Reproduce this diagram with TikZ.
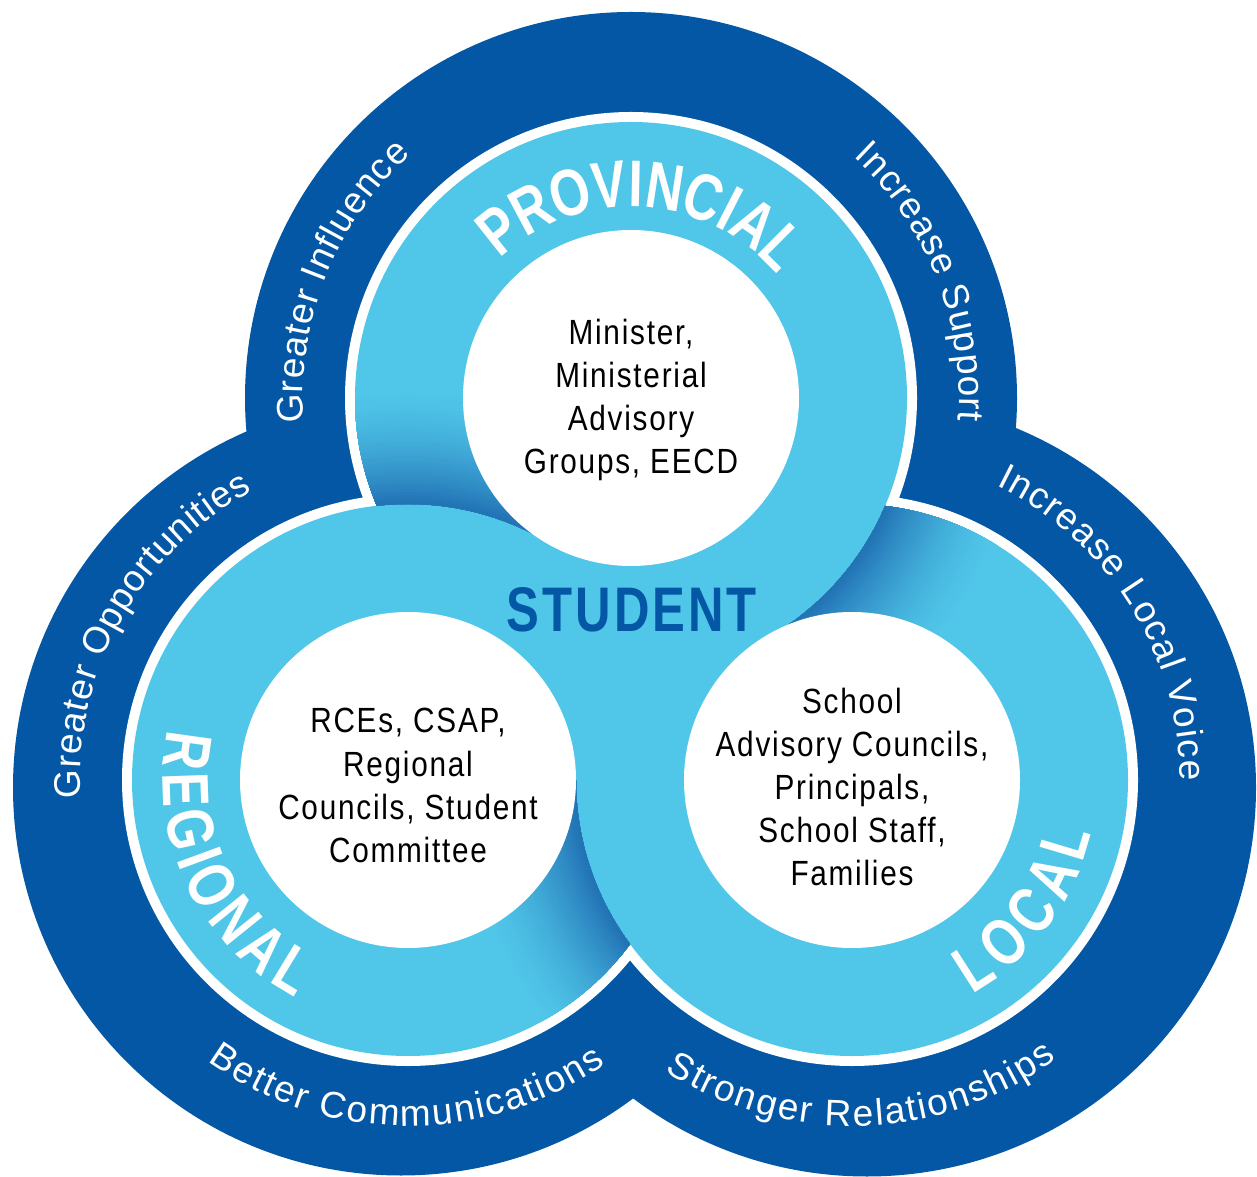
\documentclass[tikz,border=0pt]{standalone}
\usepackage{fontspec}
\usetikzlibrary{decorations.text,calc}

% type faces
\newfontfamily\bodyfont[FakeStretch=0.85,LetterSpace=5]{Liberation Sans}
\newfontfamily\ringfont{Liberation Sans}
\newfontfamily\tierfont[FakeStretch=0.78]{Liberation Sans}

% palette
\definecolor{navy}{HTML}{0357A4}
\definecolor{sky}{HTML}{50C6E9}
\definecolor{shadowdeep}{HTML}{2070B3}

% shadow cast onto a ring where it slips beneath the ring centred at #1:
% darkest at that ring's edge (r = 276), fading out by r = 396;
% each band is an annulus that starts at the edge, so nothing is painted
% inside the upper ring itself
\newcommand{\castshadow}[1]{%
  \foreach \k in {40,39,...,1} {
    \pgfmathtruncatemacro{\dd}{100*(1-\k/40)^1.6}
    \pgfmathsetmacro{\rr}{276+3*\k}
    \fill[shadowdeep!\dd!sky, even odd rule]
      (#1) circle[radius=\rr] (#1) circle[radius=276];
  }
}

\tikzset{
  bodytext/.style={font=\bodyfont\fontsize{35}{43}\selectfont, text=black,
    anchor=base, inner sep=0pt},
  ringtext/.style 2 args={decorate, decoration={text along path, text align=center,
    text={|\ringfont\fontsize{37}{37}\selectfont\color{white}\kern#2pt|#1}}},
  tiertext/.style={decorate, decoration={text along path, text align=center,
    raise=-23pt,
    text={|\tierfont\bfseries\fontsize{66}{66}\selectfont\color{white}\kern3pt|#1}}}
}

\begin{document}
\begin{tikzpicture}[x=1pt,y=1pt]
\useasboundingbox (0,0) rectangle (1257,1176);

% centres of the three tiers
\coordinate (P) at (631,778);
\coordinate (R) at (408,396);
\coordinate (L) at (852,396);

% outer dark band
\fill[navy] (631,778) circle[radius=386]
            (401,388.5) circle[radius=388]
            (867,388.5) circle[radius=389];

% white rims
\fill[white] (P) circle[radius=286] (R) circle[radius=286] (L) circle[radius=286];

% light rings
\fill[sky] (P) circle[radius=276] (R) circle[radius=276] (L) circle[radius=276];

% provincial passes under regional
\begin{scope}
  \clip (P) circle[radius=276];
  \clip ($(P)!-1!(R)$) -- ($(P)!2!(R)$) -- (-300,14) -- (-300,1160) -- cycle;
  \castshadow{R}
\end{scope}
% local passes under provincial
\begin{scope}
  \clip (L) circle[radius=276];
  \clip ($(L)!-1!(P)$) -- ($(L)!2!(P)$) -- (1700,1160) -- (1700,14) -- cycle;
  \castshadow{P}
\end{scope}
% regional passes under local
\begin{scope}
  \clip (R) circle[radius=276];
  \clip (-300,396) rectangle (1700,-300);
  \castshadow{L}
\end{scope}

% inner discs
\fill[white] (P) circle[radius=168] (R) circle[radius=168] (L) circle[radius=168];

% tier names
\path[tiertext={PROVINCIAL}] ($(P)+(157:214)$) arc[start angle=157, end angle=17, radius=214];
\path[tiertext={REGIONAL}] ($(R)+(135:222)$) arc[start angle=135, end angle=275, radius=222];
\path[tiertext={LOCAL}] ($(L)+(253:222)$) arc[start angle=253, end angle=393, radius=222];

% centre label
\node[font=\tierfont\bfseries\fontsize{63}{63}\selectfont, text=navy, inner sep=0pt]
  (student) at (632,566.5) {S\kern3pt T\kern3pt U\kern3pt D\kern3pt E\kern3pt N\kern3pt T};

% members of each tier
\node[bodytext] (p1) at (631,831) {Minister,};
\node[bodytext] (p2) at (631,788) {Ministerial};
\node[bodytext] (p3) at (631,745) {Advisory};
\node[bodytext] (p4) at (631,702) {Groups, EECD};

\node[bodytext] (r1) at (408,443) {RCEs, CSAP,};
\node[bodytext] (r2) at (408,400) {Regional};
\node[bodytext] (r3) at (408,357) {Councils, Student};
\node[bodytext] (r4) at (408,314) {Committee};

\node[bodytext] (l1) at (852,462.5) {School};
\node[bodytext] (l2) at (852,419.5) {Advisory Councils,};
\node[bodytext] (l3) at (852,376.5) {Principals,};
\node[bodytext] (l4) at (852,333.5) {School Staff,};
\node[bodytext] (l5) at (852,290.5) {Families};

% outcomes around the outer band
\path[ringtext={Greater Influence}{0.8}] ($(P)+(203.3:328)$) arc[start angle=203.3, end angle=113.3, radius=328];
\path[ringtext={Increase Support}{0.8}] ($(P)+(66.7:328)$) arc[start angle=66.7, end angle=-23.3, radius=328];
\path[ringtext={Greater Opportunities}{0.8}] ($(R)+(205.8:328)$) arc[start angle=205.8, end angle=95.8, radius=328];
\path[ringtext={Increase Local Voice}{1.2}] ($(L)+(87:328)$) arc[start angle=87, end angle=-23, radius=328];
\path[ringtext={Better Communications}{2}] ($(R)+(214.5:346)$) arc[start angle=214.5, end angle=324.5, radius=346];
\path[ringtext={Stronger Relationships}{2}] ($(L)+(216.6:346)$) arc[start angle=216.6, end angle=326.6, radius=346];
\end{tikzpicture}
\end{document}
